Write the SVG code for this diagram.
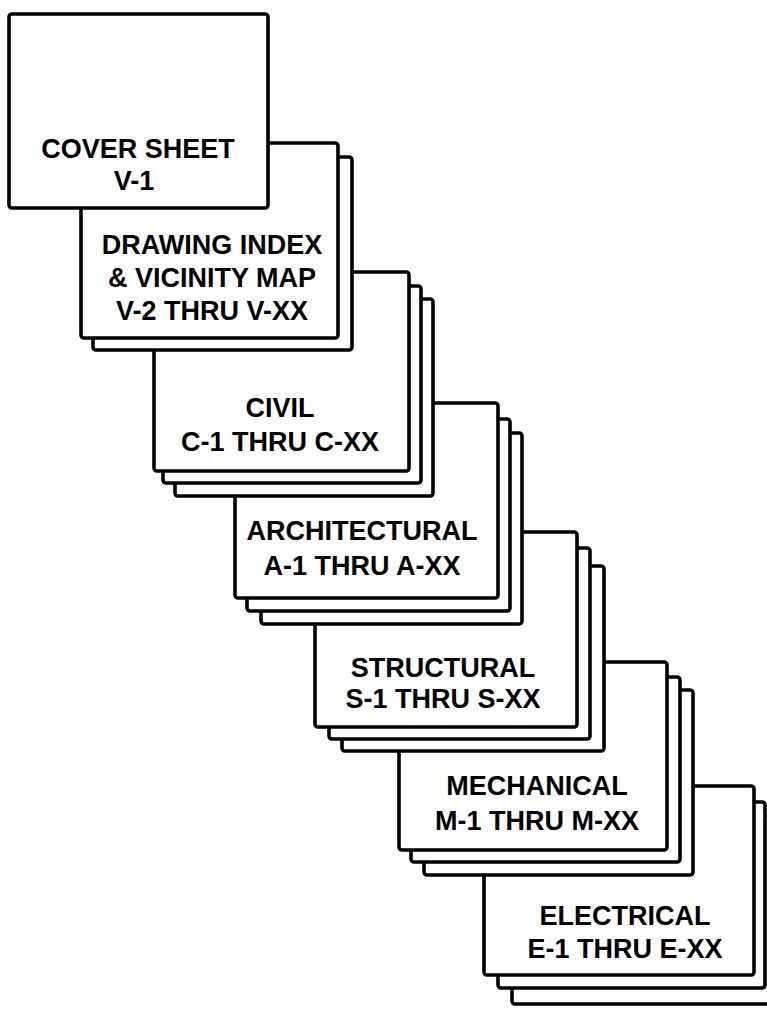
<svg xmlns="http://www.w3.org/2000/svg" width="767" height="1009" viewBox="0 0 767 1009">
<style>
.sh{fill:#fff;stroke:#000;stroke-width:3.6;stroke-linejoin:round}
.t{font-family:"Liberation Sans",Arial,Helvetica,sans-serif;font-weight:bold;font-size:27px;text-anchor:middle;fill:#000}
</style>
<rect width="767" height="1009" fill="#fff"/>
<g id="connectors"/>
<g id="electrical">
<rect class="sh" x="512" y="816" width="268" height="188" rx="3"/>
<rect class="sh" x="498" y="802" width="267" height="186" rx="3"/>
<rect class="sh" x="484" y="786" width="270" height="189" rx="3"/>
<text class="t" x="625" y="925">ELECTRICAL</text>
<text class="t" x="625" y="958">E-1 THRU E-XX</text>
</g>
<g id="mechanical">
<rect class="sh" x="424" y="690" width="269" height="185" rx="3"/>
<rect class="sh" x="411" y="677" width="269" height="185" rx="3"/>
<rect class="sh" x="399" y="662" width="268" height="188" rx="3"/>
<text class="t" x="537" y="795">MECHANICAL</text>
<text class="t" x="537" y="830">M-1 THRU M-XX</text>
</g>
<g id="structural">
<rect class="sh" x="342" y="566" width="262" height="185" rx="3"/>
<rect class="sh" x="329" y="548" width="261" height="191" rx="3"/>
<rect class="sh" x="315" y="532" width="262" height="195" rx="3"/>
<text class="t" x="443" y="677">STRUCTURAL</text>
<text class="t" x="443" y="708">S-1 THRU S-XX</text>
</g>
<g id="architectural">
<rect class="sh" x="261" y="433" width="261" height="191" rx="3"/>
<rect class="sh" x="247" y="419" width="263" height="192" rx="3"/>
<rect class="sh" x="235" y="403" width="263" height="195" rx="3"/>
<text class="t" x="362" y="540">ARCHITECTURAL</text>
<text class="t" x="362" y="575">A-1 THRU A-XX</text>
</g>
<g id="civil">
<rect class="sh" x="175" y="299" width="258" height="197" rx="3"/>
<rect class="sh" x="163" y="286" width="258" height="197" rx="3"/>
<rect class="sh" x="154" y="272" width="255" height="199" rx="3"/>
<text class="t" x="280" y="417">CIVIL</text>
<text class="t" x="280" y="451">C-1 THRU C-XX</text>
</g>
<g id="drawing-index">
<rect class="sh" x="93" y="157" width="259" height="193" rx="3"/>
<rect class="sh" x="81" y="143" width="257" height="195" rx="3"/>
<text class="t" x="212" y="254">DRAWING INDEX</text>
<text class="t" x="212" y="287">&amp; VICINITY MAP</text>
<text class="t" x="212" y="320">V-2 THRU V-XX</text>
</g>
<g id="cover-sheet">
<rect class="sh" x="9" y="14" width="259" height="194" rx="3"/>
<text class="t" x="138" y="158">COVER SHEET</text>
<text class="t" x="134" y="190">V-1</text>
</g>
</svg>
